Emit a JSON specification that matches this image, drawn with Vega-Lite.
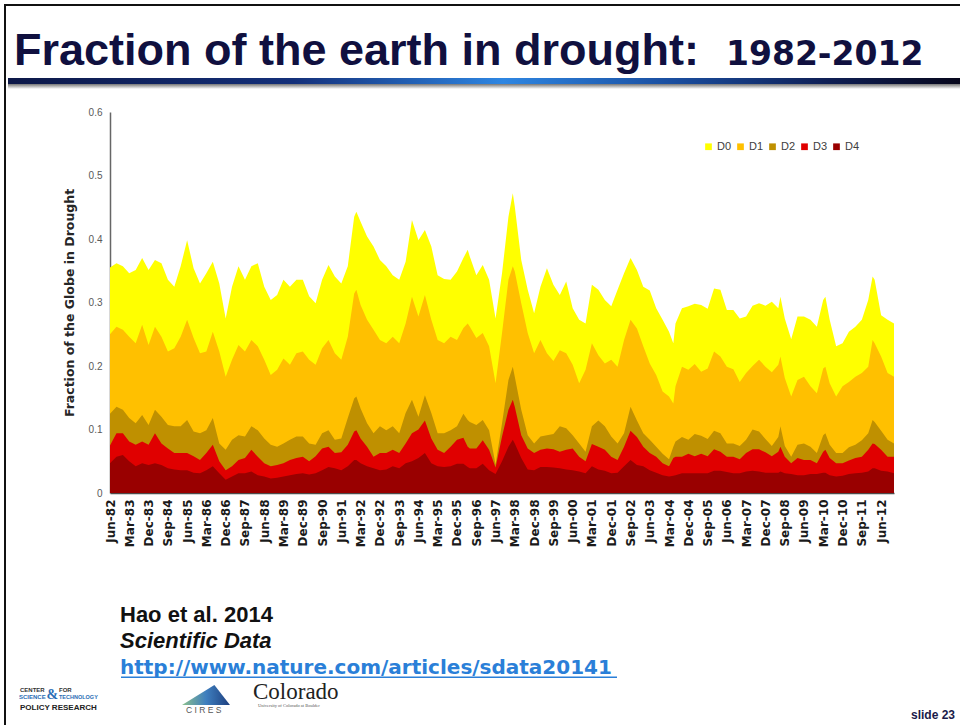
{
  "$schema": "https://vega.github.io/schema/vega-lite/v6.json",
  "background": "white",
  "padding": 0,
  "autosize": {"type": "pad"},
  "bounds": "flush",
  "spacing": 0,
  "config": {"view": {"stroke": null}, "font": "Liberation Sans"},
  "vconcat": [
    {
      "width": 784,
      "height": 112,
      "data": {"values": [{}]},
      "layer": [
        {
          "mark": {"type": "rect", "fill": "white"},
          "encoding": {
            "x": {"datum": 0, "type": "quantitative", "scale": {"domain": [110, 894], "nice": false, "zero": false}, "axis": null},
            "x2": {"datum": 960},
            "y": {"datum": 0, "type": "quantitative", "scale": {"domain": [0, 112], "nice": false, "zero": false, "reverse": true}, "axis": null},
            "y2": {"datum": 112}
          }
        },
        {
          "mark": {"type": "rect", "fill": "#111111"},
          "encoding": {"x": {"datum": 4}, "x2": {"datum": 960}, "y": {"datum": 4}, "y2": {"datum": 6}}
        },
        {
          "mark": {"type": "rect", "fill": "#111111"},
          "encoding": {"x": {"datum": 4}, "x2": {"datum": 6}, "y": {"datum": 4}, "y2": {"datum": 725}}
        },
        {
          "mark": {"type": "text", "text": "Fraction of the earth in drought:", "font": "Liberation Sans", "fontWeight": "bold", "fontSize": 45, "fill": "#10103f", "align": "left", "baseline": "alphabetic"},
          "encoding": {"x": {"datum": 14}, "y": {"datum": 65}}
        },
        {
          "mark": {"type": "text", "text": "1982-2012", "font": "DejaVu Sans", "fontWeight": "bold", "fontSize": 33, "fill": "#10103f", "align": "left", "baseline": "alphabetic"},
          "encoding": {"x": {"datum": 726}, "y": {"datum": 65}}
        },
        {
          "mark": {"type": "rect", "fill": {"gradient": "linear", "x1": 0, "y1": 0, "x2": 0, "y2": 1, "stops": [{"offset": 0, "color": "#5a5a5a"}, {"offset": 1, "color": "#ffffff"}]}},
          "encoding": {"x": {"datum": 8}, "x2": {"datum": 960}, "y": {"datum": 83}, "y2": {"datum": 89}}
        },
        {
          "mark": {"type": "rect", "fill": {"gradient": "linear", "x1": 0, "y1": 0, "x2": 1, "y2": 0, "stops": [{"offset": 0, "color": "#0d1848"}, {"offset": 0.3, "color": "#14307a"}, {"offset": 0.52, "color": "#2e86e2"}, {"offset": 0.7, "color": "#1a4d9e"}, {"offset": 0.86, "color": "#0f1f55"}, {"offset": 1, "color": "#07071c"}]}},
          "encoding": {"x": {"datum": 8}, "x2": {"datum": 960}, "y": {"datum": 78}, "y2": {"datum": 84}}
        }
      ]
    },
    {
      "width": 784,
      "height": 381,
      "data": {
        "values": [
          {"date": "1982/06/01", "D0": 0.355, "D1": 0.25, "D2": 0.125, "D3": 0.075, "D4": 0.047},
          {"date": "1982/09/01", "D0": 0.362, "D1": 0.262, "D2": 0.136, "D3": 0.094, "D4": 0.057},
          {"date": "1982/12/01", "D0": 0.357, "D1": 0.257, "D2": 0.131, "D3": 0.094, "D4": 0.06},
          {"date": "1983/03/01", "D0": 0.346, "D1": 0.246, "D2": 0.118, "D3": 0.081, "D4": 0.05},
          {"date": "1983/06/01", "D0": 0.351, "D1": 0.236, "D2": 0.11, "D3": 0.076, "D4": 0.042},
          {"date": "1983/09/01", "D0": 0.37, "D1": 0.265, "D2": 0.123, "D3": 0.081, "D4": 0.047},
          {"date": "1983/12/01", "D0": 0.351, "D1": 0.233, "D2": 0.107, "D3": 0.076, "D4": 0.044},
          {"date": "1984/03/01", "D0": 0.367, "D1": 0.262, "D2": 0.131, "D3": 0.094, "D4": 0.047},
          {"date": "1984/06/01", "D0": 0.362, "D1": 0.246, "D2": 0.12, "D3": 0.078, "D4": 0.044},
          {"date": "1984/09/01", "D0": 0.336, "D1": 0.223, "D2": 0.107, "D3": 0.07, "D4": 0.039},
          {"date": "1984/12/01", "D0": 0.325, "D1": 0.228, "D2": 0.105, "D3": 0.063, "D4": 0.037},
          {"date": "1985/03/01", "D0": 0.357, "D1": 0.246, "D2": 0.105, "D3": 0.063, "D4": 0.036},
          {"date": "1985/06/01", "D0": 0.398, "D1": 0.273, "D2": 0.115, "D3": 0.063, "D4": 0.036},
          {"date": "1985/09/01", "D0": 0.354, "D1": 0.244, "D2": 0.097, "D3": 0.058, "D4": 0.032},
          {"date": "1985/12/01", "D0": 0.33, "D1": 0.22, "D2": 0.094, "D3": 0.052, "D4": 0.031},
          {"date": "1986/03/01", "D0": 0.346, "D1": 0.223, "D2": 0.099, "D3": 0.063, "D4": 0.036},
          {"date": "1986/06/01", "D0": 0.364, "D1": 0.254, "D2": 0.118, "D3": 0.076, "D4": 0.042},
          {"date": "1986/09/01", "D0": 0.33, "D1": 0.223, "D2": 0.078, "D3": 0.05, "D4": 0.031},
          {"date": "1986/12/01", "D0": 0.275, "D1": 0.183, "D2": 0.068, "D3": 0.036, "D4": 0.021},
          {"date": "1987/03/01", "D0": 0.325, "D1": 0.21, "D2": 0.084, "D3": 0.042, "D4": 0.026},
          {"date": "1987/06/01", "D0": 0.357, "D1": 0.233, "D2": 0.091, "D3": 0.052, "D4": 0.031},
          {"date": "1987/09/01", "D0": 0.336, "D1": 0.223, "D2": 0.089, "D3": 0.055, "D4": 0.031},
          {"date": "1987/12/01", "D0": 0.357, "D1": 0.241, "D2": 0.105, "D3": 0.068, "D4": 0.034},
          {"date": "1988/03/01", "D0": 0.362, "D1": 0.231, "D2": 0.099, "D3": 0.057, "D4": 0.028},
          {"date": "1988/06/01", "D0": 0.325, "D1": 0.21, "D2": 0.086, "D3": 0.047, "D4": 0.026},
          {"date": "1988/09/01", "D0": 0.304, "D1": 0.186, "D2": 0.076, "D3": 0.042, "D4": 0.023},
          {"date": "1988/12/01", "D0": 0.312, "D1": 0.194, "D2": 0.073, "D3": 0.044, "D4": 0.024},
          {"date": "1989/03/01", "D0": 0.336, "D1": 0.212, "D2": 0.078, "D3": 0.047, "D4": 0.026},
          {"date": "1989/06/01", "D0": 0.325, "D1": 0.202, "D2": 0.084, "D3": 0.052, "D4": 0.028},
          {"date": "1989/09/01", "D0": 0.336, "D1": 0.22, "D2": 0.089, "D3": 0.055, "D4": 0.03},
          {"date": "1989/12/01", "D0": 0.336, "D1": 0.223, "D2": 0.089, "D3": 0.057, "D4": 0.031},
          {"date": "1990/03/01", "D0": 0.31, "D1": 0.21, "D2": 0.078, "D3": 0.05, "D4": 0.029},
          {"date": "1990/06/01", "D0": 0.299, "D1": 0.202, "D2": 0.076, "D3": 0.058, "D4": 0.031},
          {"date": "1990/09/01", "D0": 0.336, "D1": 0.228, "D2": 0.094, "D3": 0.07, "D4": 0.036},
          {"date": "1990/12/01", "D0": 0.359, "D1": 0.241, "D2": 0.099, "D3": 0.073, "D4": 0.041},
          {"date": "1991/03/01", "D0": 0.341, "D1": 0.22, "D2": 0.084, "D3": 0.063, "D4": 0.039},
          {"date": "1991/06/01", "D0": 0.33, "D1": 0.21, "D2": 0.086, "D3": 0.064, "D4": 0.036},
          {"date": "1991/09/01", "D0": 0.357, "D1": 0.246, "D2": 0.118, "D3": 0.076, "D4": 0.042},
          {"date": "1991/12/01", "D0": 0.435, "D1": 0.314, "D2": 0.149, "D3": 0.097, "D4": 0.052},
          {"date": "1992/01/01", "D0": 0.443, "D1": 0.32, "D2": 0.152, "D3": 0.099, "D4": 0.052},
          {"date": "1992/03/01", "D0": 0.427, "D1": 0.296, "D2": 0.133, "D3": 0.086, "D4": 0.047},
          {"date": "1992/06/01", "D0": 0.404, "D1": 0.273, "D2": 0.11, "D3": 0.073, "D4": 0.042},
          {"date": "1992/09/01", "D0": 0.388, "D1": 0.257, "D2": 0.094, "D3": 0.057, "D4": 0.039},
          {"date": "1992/12/01", "D0": 0.367, "D1": 0.241, "D2": 0.105, "D3": 0.063, "D4": 0.036},
          {"date": "1993/03/01", "D0": 0.357, "D1": 0.236, "D2": 0.099, "D3": 0.063, "D4": 0.037},
          {"date": "1993/06/01", "D0": 0.343, "D1": 0.246, "D2": 0.105, "D3": 0.068, "D4": 0.042},
          {"date": "1993/09/01", "D0": 0.336, "D1": 0.236, "D2": 0.094, "D3": 0.063, "D4": 0.039},
          {"date": "1993/12/01", "D0": 0.364, "D1": 0.267, "D2": 0.126, "D3": 0.078, "D4": 0.047},
          {"date": "1994/03/01", "D0": 0.43, "D1": 0.309, "D2": 0.147, "D3": 0.094, "D4": 0.05},
          {"date": "1994/06/01", "D0": 0.398, "D1": 0.278, "D2": 0.12, "D3": 0.1, "D4": 0.055},
          {"date": "1994/09/01", "D0": 0.414, "D1": 0.312, "D2": 0.154, "D3": 0.114, "D4": 0.063},
          {"date": "1994/12/01", "D0": 0.388, "D1": 0.273, "D2": 0.126, "D3": 0.086, "D4": 0.047},
          {"date": "1995/03/01", "D0": 0.343, "D1": 0.241, "D2": 0.094, "D3": 0.068, "D4": 0.042},
          {"date": "1995/06/01", "D0": 0.337, "D1": 0.236, "D2": 0.094, "D3": 0.063, "D4": 0.041},
          {"date": "1995/09/01", "D0": 0.336, "D1": 0.246, "D2": 0.099, "D3": 0.073, "D4": 0.042},
          {"date": "1995/12/01", "D0": 0.349, "D1": 0.241, "D2": 0.105, "D3": 0.084, "D4": 0.046},
          {"date": "1996/03/01", "D0": 0.37, "D1": 0.26, "D2": 0.125, "D3": 0.087, "D4": 0.046},
          {"date": "1996/05/01", "D0": 0.383, "D1": 0.267, "D2": 0.115, "D3": 0.073, "D4": 0.041},
          {"date": "1996/06/01", "D0": 0.372, "D1": 0.262, "D2": 0.112, "D3": 0.07, "D4": 0.039},
          {"date": "1996/09/01", "D0": 0.343, "D1": 0.244, "D2": 0.107, "D3": 0.07, "D4": 0.039},
          {"date": "1996/12/01", "D0": 0.359, "D1": 0.252, "D2": 0.115, "D3": 0.083, "D4": 0.046},
          {"date": "1997/03/01", "D0": 0.336, "D1": 0.231, "D2": 0.099, "D3": 0.068, "D4": 0.036},
          {"date": "1997/06/01", "D0": 0.275, "D1": 0.173, "D2": 0.045, "D3": 0.04, "D4": 0.03},
          {"date": "1997/09/01", "D0": 0.346, "D1": 0.252, "D2": 0.11, "D3": 0.089, "D4": 0.05},
          {"date": "1997/12/01", "D0": 0.435, "D1": 0.336, "D2": 0.178, "D3": 0.131, "D4": 0.073},
          {"date": "1998/02/01", "D0": 0.472, "D1": 0.357, "D2": 0.199, "D3": 0.147, "D4": 0.084},
          {"date": "1998/03/01", "D0": 0.451, "D1": 0.349, "D2": 0.183, "D3": 0.136, "D4": 0.078},
          {"date": "1998/06/01", "D0": 0.367, "D1": 0.299, "D2": 0.131, "D3": 0.091, "D4": 0.055},
          {"date": "1998/09/01", "D0": 0.32, "D1": 0.252, "D2": 0.091, "D3": 0.07, "D4": 0.037},
          {"date": "1998/12/01", "D0": 0.283, "D1": 0.22, "D2": 0.078, "D3": 0.063, "D4": 0.036},
          {"date": "1999/03/01", "D0": 0.325, "D1": 0.241, "D2": 0.089, "D3": 0.068, "D4": 0.041},
          {"date": "1999/06/01", "D0": 0.354, "D1": 0.22, "D2": 0.091, "D3": 0.07, "D4": 0.041},
          {"date": "1999/09/01", "D0": 0.328, "D1": 0.208, "D2": 0.093, "D3": 0.069, "D4": 0.04},
          {"date": "1999/12/01", "D0": 0.312, "D1": 0.225, "D2": 0.105, "D3": 0.065, "D4": 0.039},
          {"date": "2000/03/01", "D0": 0.333, "D1": 0.22, "D2": 0.102, "D3": 0.068, "D4": 0.037},
          {"date": "2000/06/01", "D0": 0.291, "D1": 0.202, "D2": 0.091, "D3": 0.07, "D4": 0.036},
          {"date": "2000/09/01", "D0": 0.273, "D1": 0.173, "D2": 0.078, "D3": 0.057, "D4": 0.034},
          {"date": "2000/12/01", "D0": 0.267, "D1": 0.194, "D2": 0.065, "D3": 0.05, "D4": 0.031},
          {"date": "2001/03/01", "D0": 0.328, "D1": 0.236, "D2": 0.105, "D3": 0.077, "D4": 0.042},
          {"date": "2001/06/01", "D0": 0.32, "D1": 0.217, "D2": 0.114, "D3": 0.073, "D4": 0.037},
          {"date": "2001/09/01", "D0": 0.304, "D1": 0.204, "D2": 0.105, "D3": 0.068, "D4": 0.035},
          {"date": "2001/12/01", "D0": 0.294, "D1": 0.21, "D2": 0.089, "D3": 0.057, "D4": 0.031},
          {"date": "2002/03/01", "D0": 0.32, "D1": 0.199, "D2": 0.078, "D3": 0.052, "D4": 0.032},
          {"date": "2002/06/01", "D0": 0.346, "D1": 0.241, "D2": 0.094, "D3": 0.073, "D4": 0.042},
          {"date": "2002/09/01", "D0": 0.37, "D1": 0.273, "D2": 0.136, "D3": 0.098, "D4": 0.052},
          {"date": "2002/12/01", "D0": 0.351, "D1": 0.259, "D2": 0.114, "D3": 0.088, "D4": 0.044},
          {"date": "2003/03/01", "D0": 0.325, "D1": 0.231, "D2": 0.094, "D3": 0.073, "D4": 0.042},
          {"date": "2003/06/01", "D0": 0.319, "D1": 0.204, "D2": 0.084, "D3": 0.063, "D4": 0.036},
          {"date": "2003/09/01", "D0": 0.291, "D1": 0.186, "D2": 0.073, "D3": 0.057, "D4": 0.032},
          {"date": "2003/12/01", "D0": 0.273, "D1": 0.16, "D2": 0.062, "D3": 0.047, "D4": 0.028},
          {"date": "2004/03/01", "D0": 0.254, "D1": 0.152, "D2": 0.053, "D3": 0.042, "D4": 0.026},
          {"date": "2004/05/01", "D0": 0.236, "D1": 0.141, "D2": 0.073, "D3": 0.055, "D4": 0.027},
          {"date": "2004/06/01", "D0": 0.267, "D1": 0.168, "D2": 0.081, "D3": 0.057, "D4": 0.028},
          {"date": "2004/09/01", "D0": 0.291, "D1": 0.199, "D2": 0.088, "D3": 0.057, "D4": 0.031},
          {"date": "2004/12/01", "D0": 0.294, "D1": 0.194, "D2": 0.084, "D3": 0.062, "D4": 0.031},
          {"date": "2005/03/01", "D0": 0.298, "D1": 0.203, "D2": 0.093, "D3": 0.058, "D4": 0.031},
          {"date": "2005/06/01", "D0": 0.296, "D1": 0.191, "D2": 0.09, "D3": 0.062, "D4": 0.031},
          {"date": "2005/09/01", "D0": 0.29, "D1": 0.196, "D2": 0.085, "D3": 0.058, "D4": 0.031},
          {"date": "2005/12/01", "D0": 0.322, "D1": 0.223, "D2": 0.098, "D3": 0.069, "D4": 0.035},
          {"date": "2006/03/01", "D0": 0.32, "D1": 0.215, "D2": 0.094, "D3": 0.065, "D4": 0.035},
          {"date": "2006/06/01", "D0": 0.288, "D1": 0.199, "D2": 0.078, "D3": 0.057, "D4": 0.033},
          {"date": "2006/09/01", "D0": 0.288, "D1": 0.195, "D2": 0.078, "D3": 0.057, "D4": 0.031},
          {"date": "2006/12/01", "D0": 0.275, "D1": 0.175, "D2": 0.074, "D3": 0.053, "D4": 0.031},
          {"date": "2007/03/01", "D0": 0.278, "D1": 0.189, "D2": 0.084, "D3": 0.063, "D4": 0.034},
          {"date": "2007/06/01", "D0": 0.295, "D1": 0.2, "D2": 0.1, "D3": 0.069, "D4": 0.035},
          {"date": "2007/09/01", "D0": 0.299, "D1": 0.21, "D2": 0.097, "D3": 0.069, "D4": 0.034},
          {"date": "2007/12/01", "D0": 0.295, "D1": 0.199, "D2": 0.085, "D3": 0.064, "D4": 0.032},
          {"date": "2008/03/01", "D0": 0.301, "D1": 0.19, "D2": 0.074, "D3": 0.058, "D4": 0.032},
          {"date": "2008/06/01", "D0": 0.291, "D1": 0.202, "D2": 0.088, "D3": 0.065, "D4": 0.032},
          {"date": "2008/07/01", "D0": 0.309, "D1": 0.215, "D2": 0.105, "D3": 0.073, "D4": 0.034},
          {"date": "2008/09/01", "D0": 0.275, "D1": 0.181, "D2": 0.074, "D3": 0.057, "D4": 0.031},
          {"date": "2008/12/01", "D0": 0.242, "D1": 0.152, "D2": 0.057, "D3": 0.047, "D4": 0.03},
          {"date": "2009/03/01", "D0": 0.278, "D1": 0.178, "D2": 0.076, "D3": 0.055, "D4": 0.028},
          {"date": "2009/06/01", "D0": 0.278, "D1": 0.183, "D2": 0.078, "D3": 0.052, "D4": 0.028},
          {"date": "2009/09/01", "D0": 0.273, "D1": 0.168, "D2": 0.073, "D3": 0.052, "D4": 0.03},
          {"date": "2009/12/01", "D0": 0.262, "D1": 0.157, "D2": 0.063, "D3": 0.047, "D4": 0.03},
          {"date": "2010/03/01", "D0": 0.304, "D1": 0.196, "D2": 0.091, "D3": 0.065, "D4": 0.032},
          {"date": "2010/04/01", "D0": 0.309, "D1": 0.199, "D2": 0.094, "D3": 0.068, "D4": 0.032},
          {"date": "2010/06/01", "D0": 0.273, "D1": 0.173, "D2": 0.076, "D3": 0.055, "D4": 0.028},
          {"date": "2010/09/01", "D0": 0.231, "D1": 0.152, "D2": 0.063, "D3": 0.047, "D4": 0.026},
          {"date": "2010/12/01", "D0": 0.236, "D1": 0.168, "D2": 0.063, "D3": 0.047, "D4": 0.027},
          {"date": "2011/03/01", "D0": 0.254, "D1": 0.175, "D2": 0.072, "D3": 0.051, "D4": 0.03},
          {"date": "2011/06/01", "D0": 0.262, "D1": 0.183, "D2": 0.076, "D3": 0.055, "D4": 0.031},
          {"date": "2011/09/01", "D0": 0.273, "D1": 0.189, "D2": 0.083, "D3": 0.057, "D4": 0.032},
          {"date": "2011/12/01", "D0": 0.304, "D1": 0.199, "D2": 0.094, "D3": 0.068, "D4": 0.034},
          {"date": "2012/02/01", "D0": 0.341, "D1": 0.241, "D2": 0.115, "D3": 0.078, "D4": 0.039},
          {"date": "2012/03/01", "D0": 0.336, "D1": 0.236, "D2": 0.112, "D3": 0.077, "D4": 0.039},
          {"date": "2012/06/01", "D0": 0.28, "D1": 0.215, "D2": 0.098, "D3": 0.068, "D4": 0.035},
          {"date": "2012/09/01", "D0": 0.273, "D1": 0.189, "D2": 0.084, "D3": 0.057, "D4": 0.034},
          {"date": "2012/12/01", "D0": 0.267, "D1": 0.183, "D2": 0.078, "D3": 0.057, "D4": 0.031}
        ]
      },
      "transform": [{"fold": ["D0", "D1", "D2", "D3", "D4"], "as": ["category", "fraction"]}],
      "mark": {"type": "area", "interpolate": "linear", "opacity": 1},
      "encoding": {
        "x": {
          "field": "date",
          "type": "temporal",
          "scale": {"domain": [{"year": 1982, "month": 6, "date": 1}, {"year": 2012, "month": 12, "date": 1}], "nice": false},
          "axis": {
            "title": null,
            "values": [
              {"year": 1982, "month": 6, "date": 1}, {"year": 1983, "month": 3, "date": 1}, {"year": 1983, "month": 12, "date": 1},
              {"year": 1984, "month": 9, "date": 1}, {"year": 1985, "month": 6, "date": 1}, {"year": 1986, "month": 3, "date": 1},
              {"year": 1986, "month": 12, "date": 1}, {"year": 1987, "month": 9, "date": 1}, {"year": 1988, "month": 6, "date": 1},
              {"year": 1989, "month": 3, "date": 1}, {"year": 1989, "month": 12, "date": 1}, {"year": 1990, "month": 9, "date": 1},
              {"year": 1991, "month": 6, "date": 1}, {"year": 1992, "month": 3, "date": 1}, {"year": 1992, "month": 12, "date": 1},
              {"year": 1993, "month": 9, "date": 1}, {"year": 1994, "month": 6, "date": 1}, {"year": 1995, "month": 3, "date": 1},
              {"year": 1995, "month": 12, "date": 1}, {"year": 1996, "month": 9, "date": 1}, {"year": 1997, "month": 6, "date": 1},
              {"year": 1998, "month": 3, "date": 1}, {"year": 1998, "month": 12, "date": 1}, {"year": 1999, "month": 9, "date": 1},
              {"year": 2000, "month": 6, "date": 1}, {"year": 2001, "month": 3, "date": 1}, {"year": 2001, "month": 12, "date": 1},
              {"year": 2002, "month": 9, "date": 1}, {"year": 2003, "month": 6, "date": 1}, {"year": 2004, "month": 3, "date": 1},
              {"year": 2004, "month": 12, "date": 1}, {"year": 2005, "month": 9, "date": 1}, {"year": 2006, "month": 6, "date": 1},
              {"year": 2007, "month": 3, "date": 1}, {"year": 2007, "month": 12, "date": 1}, {"year": 2008, "month": 9, "date": 1},
              {"year": 2009, "month": 6, "date": 1}, {"year": 2010, "month": 3, "date": 1}, {"year": 2010, "month": 12, "date": 1},
              {"year": 2011, "month": 9, "date": 1}, {"year": 2012, "month": 6, "date": 1}
            ],
            "format": "%b-%y",
            "labelAngle": 270,
            "labelFont": "DejaVu Sans",
            "labelFontWeight": "bold",
            "labelFontSize": 12,
            "labelColor": "#1a1a1a",
            "labelPadding": 6,
            "labelOverlap": false,
            "labelFlush": false,
            "labelBound": false,
            "ticks": false,
            "grid": false,
            "domainColor": "#4d4d4d",
            "domainWidth": 1.5
          }
        },
        "y": {
          "field": "fraction",
          "type": "quantitative",
          "stack": null,
          "scale": {"domain": [0, 0.6], "nice": false},
          "axis": {
            "title": "Fraction of the Globe in Drought",
            "values": [0, 0.1, 0.2, 0.3, 0.4, 0.5, 0.6],
            "format": "~g",
            "labelFont": "Liberation Sans",
            "labelFontSize": 10,
            "labelColor": "#595959",
            "labelPadding": 8,
            "ticks": false,
            "grid": false,
            "domainColor": "#666666",
            "domainWidth": 1.5,
            "titleFont": "DejaVu Sans",
            "titleFontWeight": "bold",
            "titleFontSize": 12.5,
            "titleColor": "#262626",
            "titlePadding": 12
          }
        },
        "color": {
          "field": "category",
          "type": "nominal",
          "scale": {"domain": ["D0", "D1", "D2", "D3", "D4"], "range": ["#ffff00", "#ffc000", "#bf9000", "#e00000", "#990000"]},
          "legend": {
            "orient": "none",
            "legendX": 593,
            "legendY": 141,
            "direction": "horizontal",
            "title": null,
            "symbolType": "square",
            "symbolSize": 45,
            "symbolStrokeWidth": 0,
            "labelFont": "Liberation Sans",
            "labelFontSize": 11,
            "labelColor": "#404040",
            "labelOffset": 3,
            "columnPadding": 3
          }
        }
      }
    },
    {
      "width": 784,
      "height": 232,
      "data": {"values": [{}]},
      "layer": [
        {
          "mark": {"type": "text", "text": "Hao et al. 2014", "font": "Liberation Sans", "fontWeight": "bold", "fontSize": 22, "fill": "#111111", "align": "left", "baseline": "alphabetic"},
          "encoding": {
            "x": {"datum": 120, "type": "quantitative", "scale": {"domain": [110, 894], "nice": false, "zero": false}, "axis": null},
            "y": {"datum": 622, "type": "quantitative", "scale": {"domain": [493, 725], "nice": false, "zero": false, "reverse": true}, "axis": null}
          }
        },
        {
          "mark": {"type": "text", "text": "Scientific Data", "font": "Liberation Sans", "fontWeight": "bold", "fontStyle": "italic", "fontSize": 22, "fill": "#111111", "align": "left", "baseline": "alphabetic"},
          "encoding": {"x": {"datum": 120}, "y": {"datum": 648}}
        },
        {
          "mark": {"type": "text", "text": "http://www.nature.com/articles/sdata20141", "font": "DejaVu Sans", "fontWeight": "bold", "fontSize": 20, "fill": "#2a7fd8", "align": "left", "baseline": "alphabetic"},
          "encoding": {"x": {"datum": 120}, "y": {"datum": 674}}
        },
        {
          "mark": {"type": "rect", "fill": "#2a7fd8"},
          "encoding": {"x": {"datum": 121}, "x2": {"datum": 617}, "y": {"datum": 676.5}, "y2": {"datum": 678}}
        },
        {
          "mark": {"type": "text", "text": "CENTER", "font": "Liberation Sans", "fontWeight": "bold", "fontSize": 6, "fill": "#333333", "align": "left", "baseline": "alphabetic"},
          "encoding": {"x": {"datum": 20}, "y": {"datum": 692}}
        },
        {
          "mark": {"type": "text", "text": "FOR", "font": "Liberation Sans", "fontWeight": "bold", "fontSize": 6, "fill": "#333333", "align": "left", "baseline": "alphabetic"},
          "encoding": {"x": {"datum": 59}, "y": {"datum": 692}}
        },
        {
          "mark": {"type": "text", "text": "&", "font": "Liberation Serif", "fontWeight": "bold", "fontSize": 14, "fill": "#2a6db5", "align": "left", "baseline": "alphabetic"},
          "encoding": {"x": {"datum": 46.5}, "y": {"datum": 699}}
        },
        {
          "mark": {"type": "text", "text": "SCIENCE", "font": "Liberation Sans", "fontWeight": "bold", "fontSize": 6, "fill": "#2a6db5", "align": "left", "baseline": "alphabetic"},
          "encoding": {"x": {"datum": 19}, "y": {"datum": 699}}
        },
        {
          "mark": {"type": "text", "text": "TECHNOLOGY", "font": "Liberation Sans", "fontWeight": "bold", "fontSize": 5.5, "fill": "#2a6db5", "align": "left", "baseline": "alphabetic"},
          "encoding": {"x": {"datum": 59}, "y": {"datum": 699}}
        },
        {
          "mark": {"type": "text", "text": "POLICY RESEARCH", "font": "Liberation Sans", "fontWeight": "bold", "fontSize": 8, "fill": "#222222", "align": "left", "baseline": "alphabetic"},
          "encoding": {"x": {"datum": 20}, "y": {"datum": 710}}
        },
        {
          "mark": {"type": "point", "shape": "M-1,0.42L0.35,-0.42L1,0.42Z", "filled": true, "size": 2300, "opacity": 1, "strokeWidth": 0, "fill": {"gradient": "linear", "x1": 0, "y1": 0, "x2": 1, "y2": 0, "stops": [{"offset": 0, "color": "#8cc08c"}, {"offset": 0.5, "color": "#3f7fbf"}, {"offset": 1, "color": "#1d3f7f"}]}},
          "encoding": {"x": {"datum": 206}, "y": {"datum": 695}}
        },
        {
          "mark": {"type": "text", "text": "C I R E S", "font": "Liberation Sans", "fontSize": 8.5, "fill": "#555555", "align": "left", "baseline": "alphabetic"},
          "encoding": {"x": {"datum": 186}, "y": {"datum": 713}}
        },
        {
          "mark": {"type": "text", "text": "Colorado", "font": "Liberation Serif", "fontSize": 23, "fill": "#222222", "align": "left", "baseline": "alphabetic"},
          "encoding": {"x": {"datum": 253}, "y": {"datum": 699}}
        },
        {
          "mark": {"type": "text", "text": "University of Colorado at Boulder", "font": "Liberation Serif", "fontSize": 4.5, "fill": "#555555", "align": "left", "baseline": "alphabetic"},
          "encoding": {"x": {"datum": 258}, "y": {"datum": 707}}
        },
        {
          "mark": {"type": "text", "text": "slide 23", "font": "Liberation Sans", "fontWeight": "bold", "fontSize": 12, "fill": "#1a1a4a", "align": "left", "baseline": "alphabetic"},
          "encoding": {"x": {"datum": 911}, "y": {"datum": 719}}
        }
      ]
    }
  ]
}
